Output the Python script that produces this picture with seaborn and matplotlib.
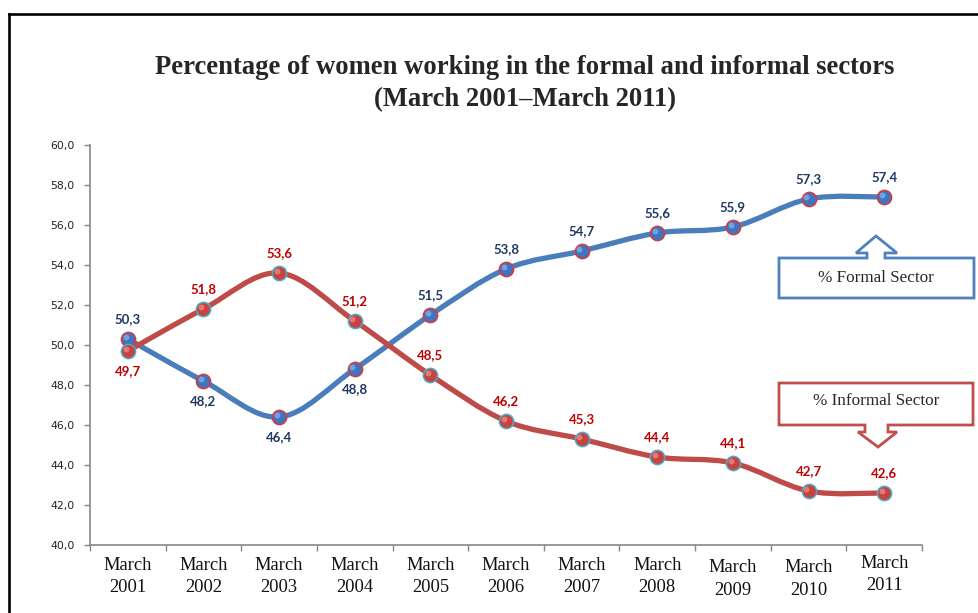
import numpy as np
import pandas as pd
import matplotlib
matplotlib.use("Agg")
import matplotlib.pyplot as plt
import matplotlib.transforms as mtransforms
import seaborn as sns
from matplotlib.path import Path
from matplotlib.patches import PathPatch, Polygon
from matplotlib.lines import Line2D

# ---------------- data ----------------
categories = ["March\n2001", "March\n2002", "March\n2003", "March\n2004", "March\n2005",
              "March\n2006", "March\n2007", "March\n2008", "March\n2009", "March\n2010",
              "March\n2011"]
formal = [50.3, 48.2, 46.4, 48.8, 51.5, 53.8, 54.7, 55.6, 55.9, 57.3, 57.4]
informal = [49.7, 51.8, 53.6, 51.2, 48.5, 46.2, 45.3, 44.4, 44.1, 42.7, 42.6]
y_ticks = [40, 42, 44, 46, 48, 50, 52, 54, 56, 58, 60]
title_line1 = "Percentage of women working in the formal and informal sectors"
title_line2 = "(March 2001\u2013March 2011)"
formal_name = "% Formal Sector"
informal_name = "% Informal Sector"

# ---------------- style ----------------
formal_pos = [1, -1, -1, -1, 1, 1, 1, 1, 1, 1, 1]
informal_pos = [-1, 1, 1, 1, 1, 1, 1, 1, 1, 1, 1]
xlabel_shift = [0, 0, 0, 0, 0, 0, 0, 0, 2.5, 2.5, -2]

BLUE = "#4A7EBB"
RED = "#BE4B48"
CYAN = "#4BACC6"
NAVY = "#1F3864"
DRED = "#C00000"
GRAY = "#868686"

sns.set_style("white")
plt.rcParams["font.family"] = ["DejaVu Sans"]

W, H = 979, 613
fig = plt.figure(figsize=(W / 100, H / 100), dpi=100)
ax = fig.add_axes([90 / W, (H - 545) / H, (922 - 90) / W, 400 / H])

xs = np.arange(len(categories))
df = pd.DataFrame({"x": np.concatenate([xs, xs]),
                   "value": formal + informal,
                   "series": [formal_name] * len(xs) + [informal_name] * len(xs)})


def smooth_path(xv, yv):
    pts = np.column_stack([xv, yv]).astype(float)
    n = len(pts)
    verts = [pts[0]]
    codes = [Path.MOVETO]
    for i in range(n - 1):
        p0 = pts[i - 1] if i > 0 else pts[i]
        p1 = pts[i]
        p2 = pts[i + 1]
        p3 = pts[i + 2] if i + 2 < n else pts[i + 1]
        c1 = p1 + (p2 - p0) / 6.0
        c2 = p2 - (p3 - p1) / 6.0
        verts += [c1, c2, p2]
        codes += [Path.CURVE4] * 3
    return Path(verts, codes)


ax.add_patch(PathPatch(smooth_path(xs, formal), facecolor="none", edgecolor=BLUE,
                       lw=3.8, capstyle="round", joinstyle="round", zorder=2))
ax.add_patch(PathPatch(smooth_path(xs, informal), facecolor="none", edgecolor=RED,
                       lw=3.8, capstyle="round", joinstyle="round", zorder=2.1))

sub_f = df[df.series == formal_name]
sub_i = df[df.series == informal_name]
sns.scatterplot(data=sub_f, x="x", y="value", ax=ax, color="#3E74C0", edgecolor="#D83A3A",
                linewidth=1.1, s=105, zorder=3, legend=False)
sns.scatterplot(data=sub_i, x="x", y="value", ax=ax, color="#C8423F", edgecolor=CYAN,
                linewidth=1.1, s=105, zorder=3, legend=False)
# highlight for glossy look
ax.scatter(xs - 0.03, np.array(formal) + 0.12, s=18, color="#8FB4E8", alpha=0.7,
           linewidths=0, zorder=3.5)
ax.scatter(xs - 0.03, np.array(informal) + 0.12, s=18, color="#E89490", alpha=0.7,
           linewidths=0, zorder=3.5)


def fmt(v):
    return f"{v:.1f}".replace(".", ",")

for i, v in enumerate(formal):
    ax.annotate(fmt(v), (i, v), xytext=(0, 14.5 * formal_pos[i]), textcoords="offset points",
                ha="center", va="center", color=NAVY, fontsize=9.5, fontweight="bold",
                family=["Lato", "DejaVu Sans"], zorder=5)
for i, v in enumerate(informal):
    ax.annotate(fmt(v), (i, v), xytext=(0, 14.5 * informal_pos[i]), textcoords="offset points",
                ha="center", va="center", color=DRED, fontsize=9.5, fontweight="bold",
                family=["Lato", "DejaVu Sans"], zorder=5)

ax.set_xlim(-0.5, len(categories) - 0.5)
ax.set_ylim(y_ticks[0], y_ticks[-1])
ax.set_yticks(y_ticks)
ax.set_yticklabels([fmt(v) for v in y_ticks])
ax.set_xticks(np.arange(-0.5, len(categories), 1.0))
ax.set_xticklabels([])
ax.set_xlabel("")
ax.set_ylabel("")
ax.tick_params(axis="y", direction="out", length=4, width=1, color=GRAY, pad=7,
               labelsize=7.8, labelcolor="#222222", left=True)
ax.tick_params(axis="x", direction="out", length=4, width=1, color=GRAY, bottom=True)
for s in ["top", "right"]:
    ax.spines[s].set_visible(False)
for s in ["left", "bottom"]:
    ax.spines[s].set_color(GRAY)
    ax.spines[s].set_linewidth(1.2)
ax.grid(False)

trans = mtransforms.blended_transform_factory(ax.transData, fig.transFigure)
for i, c in enumerate(categories):
    yc = 576.5 + xlabel_shift[i]
    ax.text(i, 1 - yc / H, c, transform=trans, ha="center", va="center", fontsize=13.3,
            family=["Liberation Serif", "DejaVu Serif"], linespacing=1.4, color="#111111")

# title
fig.text(525 / W, 1 - 67 / H, title_line1, ha="center", va="center", fontsize=19.2,
         fontweight="bold", family=["Liberation Serif", "DejaVu Serif"])
fig.text(525 / W, 1 - 100 / H, title_line2, ha="center", va="center", fontsize=19.2,
         fontweight="bold", family=["Liberation Serif", "DejaVu Serif"])


def px(points):
    return [(x / W, 1 - y / H) for x, y in points]

formal_box = [(779, 298), (779, 258), (867, 258), (867, 253), (856, 253), (876, 236),
              (897, 253), (885, 253), (885, 258), (974, 258), (974, 298)]
informal_box = [(779, 383), (973, 383), (973, 425), (888, 425), (888, 432), (897, 432),
                (878, 447), (858, 432), (865, 432), (865, 425), (779, 425)]
fig.add_artist(Polygon(px(formal_box), closed=True, facecolor="white", edgecolor="#4F81BD",
                       lw=2.0, transform=fig.transFigure, joinstyle="miter"))
fig.add_artist(Polygon(px(informal_box), closed=True, facecolor="white", edgecolor="#C0504D",
                       lw=2.0, transform=fig.transFigure, joinstyle="miter"))
fig.text(876 / W, 1 - 278 / H, formal_name, ha="center", va="center", fontsize=12.3,
         family=["Liberation Serif", "DejaVu Serif"])
fig.text(876 / W, 1 - 401 / H, informal_name, ha="center", va="center", fontsize=12.3,
         family=["Liberation Serif", "DejaVu Serif"])

# outer frame
fig.add_artist(Line2D([9 / W, 9 / W], [0, 1 - 14 / H], color="black", lw=1.9,
                      transform=fig.transFigure, solid_capstyle="projecting"))
fig.add_artist(Line2D([9 / W, 1], [1 - 14 / H, 1 - 14 / H], color="black", lw=1.9,
                      transform=fig.transFigure, solid_capstyle="projecting"))

fig.savefig("out.png", dpi=100, facecolor="white")
